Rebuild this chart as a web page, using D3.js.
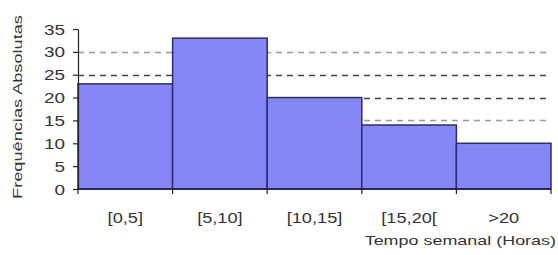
<!DOCTYPE html>
<html>
<head>
<meta charset="utf-8">
<script src="https://cdn.jsdelivr.net/npm/d3@7"></script>
<style>
  body { margin: 0; background: #fff; }
  text { font-family: Arial, "Liberation Sans", sans-serif; fill: #333; }
</style>
</head>
<body>
<div id="chart"></div>
<script>
// chart data
const categories = ["[0,5]", "[5,10]", "[10,15]", "[15,20[", ">20"];
const frequencies = [23, 33, 20, 14, 10];
const yTicks = [0, 5, 10, 15, 20, 25, 30, 35];
const gridValues = [15, 20, 25, 30];
const xTitle = "Tempo semanal (Horas)";
const yTitle = "Frequências  Absolutas";

const width = 558, height = 255;
const margin = { left: 78, right: 7, top: 29, bottom: 66 };

const svg = d3.select("#chart")
    .append("svg")
    .attr("width", width)
    .attr("height", height);

// scales
const x = d3.scaleBand()
    .domain(categories)
    .range([margin.left, width - margin.right])
    .padding(0);

const y = d3.scaleLinear()
    .domain([0, 35])
    .range([height - margin.bottom, margin.top]);

// dashed grid lines (behind the bars)
svg.append("g").selectAll("line")
    .data(gridValues)
    .enter()
    .append("line")
    .attr("x1", margin.left)
    .attr("x2", width - margin.right - 3)
    .attr("y1", d => Math.round(y(d)) + 0.5)
    .attr("y2", d => Math.round(y(d)) + 0.5)
    .attr("stroke", (d, i) => (i === 0 || i === 3) ? "#999" : "#444")
    .attr("stroke-width", 1.5)
    .attr("stroke-dasharray", "6,5");

// bars
svg.append("g").selectAll("rect")
    .data(frequencies)
    .enter()
    .append("rect")
    .attr("x", (d, i) => x(categories[i]))
    .attr("y", d => y(d))
    .attr("width", x.bandwidth())
    .attr("height", d => y(0) - y(d))
    .attr("fill", "#8686f6")
    .attr("stroke", "#2c2c70")
    .attr("stroke-width", 1.5);

// y axis
const yAxis = svg.append("g")
    .attr("transform", `translate(${margin.left},0)`)
    .call(d3.axisLeft(y).tickValues(yTicks).tickSize(5).tickSizeOuter(0).tickFormat(d3.format("d")));

yAxis.select(".domain").attr("stroke", "#222").attr("stroke-width", 1.2);
yAxis.selectAll(".tick line").attr("stroke", "#222").attr("stroke-width", 1.2);
yAxis.selectAll(".tick text")
    .attr("x", null)
    .attr("dy", null)
    .attr("text-anchor", "end")
    .attr("font-size", 14)
    .style("font-family", "Arial, 'Liberation Sans', sans-serif")
    .attr("fill", "#444")
    .attr("transform", "translate(-13,5) scale(1.35,1)");

// x axis line and boundary ticks
const xAxis = svg.append("g");
xAxis.append("line")
    .attr("x1", margin.left)
    .attr("x2", width - margin.right)
    .attr("y1", y(0))
    .attr("y2", y(0))
    .attr("stroke", "#222")
    .attr("stroke-width", 1.5);

const bounds = categories.map(c => x(c)).concat([x(categories[categories.length - 1]) + x.bandwidth()]);
xAxis.selectAll(".xtick")
    .data(bounds)
    .enter()
    .append("line")
    .attr("x1", d => d)
    .attr("x2", d => d)
    .attr("y1", y(0))
    .attr("y2", y(0) + 5)
    .attr("stroke", "#222")
    .attr("stroke-width", 1.2);

// category labels
xAxis.selectAll(".xlabel")
    .data(categories)
    .enter()
    .append("text")
    .attr("text-anchor", "middle")
    .attr("font-size", 14)
    .attr("fill", "#444")
    .attr("transform", d => `translate(${x(d) + x.bandwidth() / 2},${y(0) + 34}) scale(1.3,1)`)
    .text(d => d);

// axis titles
svg.append("text")
    .attr("text-anchor", "end")
    .attr("font-size", 13)
    .attr("fill", "#444")
    .attr("transform", `translate(${width - 2},${y(0) + 56}) scale(1.38,1)`)
    .text(xTitle);

svg.append("text")
    .attr("text-anchor", "middle")
    .attr("font-size", 13)
    .attr("fill", "#444")
    .attr("transform", `translate(22,107) rotate(-90) scale(1.4,1)`)
    .text(yTitle);
</script>
</body>
</html>
